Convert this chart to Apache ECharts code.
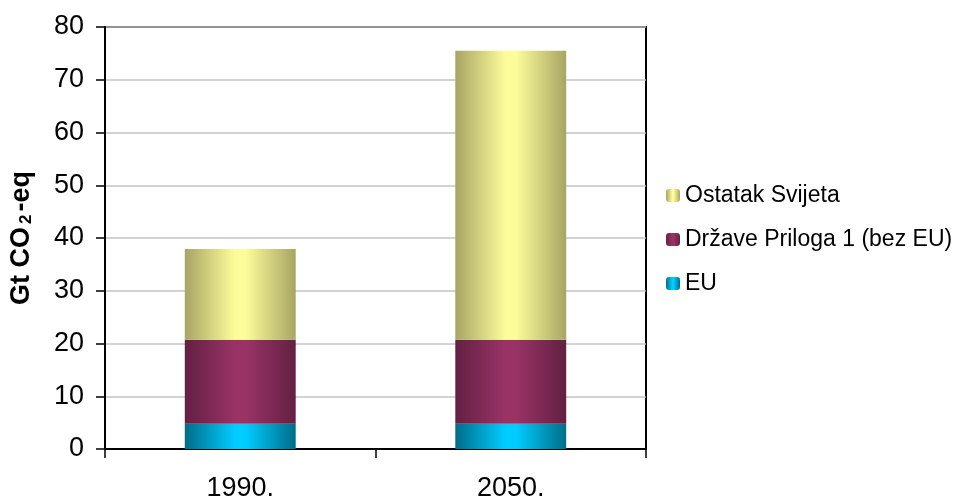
<!DOCTYPE html>
<html>
<head>
<meta charset="utf-8">
<script src="https://cdn.jsdelivr.net/npm/echarts@6/dist/echarts.min.js"></script>
<style>
    html, body { margin: 0; padding: 0; background: #fff; }
    #chart { width: 963px; height: 500px; }
</style>
</head>
<body>
<div id="chart"></div>
<script>
// --- podaci ---
const categories = ['1990.', '2050.'];
const euValues = [4.8, 4.8];
const prilogaValues = [15.9, 15.9];
const ostatakValues = [17.2, 54.8];
const yTicks = [0, 10, 20, 30, 40, 50, 60, 70, 80];

const seriesNames = ['EU', 'Države Priloga 1 (bez EU)', 'Ostatak Svijeta'];

const FONT = 'Arial, "Liberation Sans", sans-serif';

// horizontalni gradijent: tamno na rubovima, svijetlo u sredini
function barGradient(edge, mid) {
    return new echarts.graphic.LinearGradient(0, 0, 1, 0, [
        { offset: 0, color: edge },
        { offset: 0.45, color: mid },
        { offset: 0.55, color: mid },
        { offset: 1, color: edge }
    ]);
}

const colors = {
    eu: barGradient('#006d88', '#00ccff'),
    priloga: barGradient('#632042', '#993366'),
    ostatak: barGradient('#a7a564', '#fcfc9a')
};

const myChart = echarts.init(document.getElementById('chart'));

function makeSeries(name, data, color) {
    return {
        name: name,
        type: 'bar',
        stack: 'total',
        barWidth: '41%',
        itemStyle: { color: color },
        emphasis: { disabled: true },
        data: data
    };
}

const option = {
    animation: false,
    textStyle: { fontFamily: FONT },
    grid: {
        left: 105,
        right: 317,
        top: 27,
        bottom: 51,
        outerBoundsMode: 'none',
        show: true,
        borderColor: '#000',
        borderWidth: 2
    },
    legend: {
        orient: 'vertical',
        left: 661,
        top: 179,
        itemWidth: 14,
        itemHeight: 13,
        itemGap: 21,
        textStyle: { fontSize: 23, color: '#000', fontFamily: FONT },
        data: ['Ostatak Svijeta', 'Države Priloga 1 (bez EU)', 'EU']
    },
    xAxis: {
        type: 'category',
        data: categories,
        axisLine: { lineStyle: { color: '#000', width: 2 } },
        axisTick: { show: true, length: 9, lineStyle: { color: '#000', width: 1.5 } },
        axisLabel: { fontSize: 27, color: '#000', margin: 26, fontFamily: FONT }
    },
    yAxis: {
        type: 'value',
        min: 0,
        max: 80,
        interval: 10,
        name: '{n|Gt CO}{s|2}{n|-eq}',
        nameLocation: 'middle',
        nameGap: 70,
        nameTextStyle: {
            rich: {
                n: { fontSize: 27, fontWeight: 'bold', color: '#000', fontFamily: FONT },
                s: { fontSize: 17, fontWeight: 'bold', color: '#000', fontFamily: FONT, verticalAlign: 'bottom', padding: [10, 3, 0, 3] }
            }
        },
        axisLine: { show: true, lineStyle: { color: '#000', width: 2 } },
        axisTick: { show: true, length: 9, lineStyle: { color: '#000', width: 1.5 } },
        axisLabel: {
            fontSize: 27,
            color: '#000',
            margin: 21,
            fontFamily: FONT,
            formatter: v => yTicks.includes(v) ? String(v) : ''
        },
        splitLine: { lineStyle: { color: '#c4c4c4', width: 1.5 } }
    },
    series: [
        makeSeries(seriesNames[0], euValues, colors.eu),
        makeSeries(seriesNames[1], prilogaValues, colors.priloga),
        makeSeries(seriesNames[2], ostatakValues, colors.ostatak)
    ]
};

myChart.setOption(option);
</script>
</body>
</html>
